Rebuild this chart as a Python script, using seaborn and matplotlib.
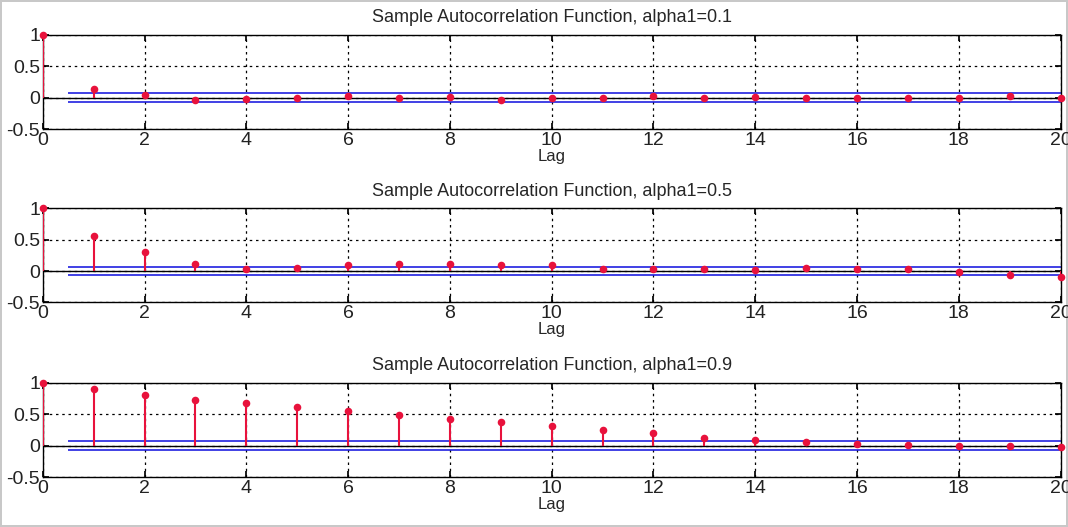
import matplotlib

matplotlib.use("Agg")
import matplotlib.pyplot as plt
import numpy as np
import pandas as pd
import seaborn as sns

sns.set_theme(style="white")
plt.rcParams["font.family"] = ["Liberation Sans", "DejaVu Sans"]

lags = list(range(21))
alphas = ["0.1", "0.5", "0.9"]
acf_01 = [1.0, 0.13, 0.05, -0.03, -0.02, -0.01, 0.03, 0.0, 0.01, -0.03, -0.01,
          0.0, 0.02, 0.0, 0.01, 0.0, -0.01, -0.01, -0.01, 0.02, 0.0]
acf_05 = [1.0, 0.55, 0.30, 0.12, 0.04, 0.05, 0.09, 0.11, 0.11, 0.09, 0.10,
          0.04, 0.04, 0.03, 0.02, 0.05, 0.04, 0.03, -0.02, -0.06, -0.10]
acf_09 = [1.0, 0.90, 0.81, 0.73, 0.67, 0.61, 0.55, 0.48, 0.42, 0.37, 0.31,
          0.25, 0.20, 0.13, 0.10, 0.06, 0.03, 0.01, -0.01, 0.0, -0.02]
conf_bound = 0.07
x_ticks = list(range(0, 21, 2))
y_ticks = [-0.5, 0, 0.5, 1]

STEM_RED = "#e8123c"

fig = plt.figure(figsize=(10.68, 5.27), dpi=100)
fig.patch.set_edgecolor("#c8c8c8")
fig.patch.set_linewidth(1.5)

# axes boxes (left, bottom, width, height) in figure fractions
boxes = [
    (0.040, 0.755, 0.953, 0.179),
    (0.040, 0.426, 0.953, 0.179),
    (0.040, 0.094, 0.953, 0.180),
]

for box, alpha, acf in zip(boxes, alphas, [acf_01, acf_05, acf_09]):
    ax = fig.add_axes(box)
    df = pd.DataFrame({"lag": lags, "acf": acf})
    ax.grid(True, color="black", linestyle=(0, (2, 3)), linewidth=0.9)
    ax.axhline(0, color="black", linewidth=1.0, zorder=2)
    ax.hlines([conf_bound, -conf_bound], 0.5, 20, color="#2020e0", linewidth=1.2, zorder=2)
    ax.vlines(df["lag"], 0, df["acf"], color=STEM_RED, linewidth=1.5, zorder=3)
    sns.scatterplot(data=df, x="lag", y="acf", ax=ax, color=STEM_RED, s=30,
                    edgecolor=STEM_RED, linewidth=0, zorder=4, clip_on=False)
    ax.set_xlim(0, 20)
    ax.set_ylim(-0.5, 1)
    ax.set_xticks(x_ticks)
    ax.set_yticks(y_ticks)
    ax.set_yticklabels(["-0.5", "0", "0.5", "1"])
    ax.tick_params(direction="in", length=4, labelsize=14, pad=2,
                   top=True, right=True, bottom=True, left=True, color="black",
                   labelcolor="#222222")
    for sp in ax.spines.values():
        sp.set_color("black")
        sp.set_linewidth(1.0)
    ax.set_xlabel("Lag", fontsize=12, labelpad=0)
    ax.set_ylabel("")
    ax.set_title(f"Sample Autocorrelation Function, alpha1={alpha}", fontsize=13, pad=9)

fig.savefig("out.png", dpi=100)
